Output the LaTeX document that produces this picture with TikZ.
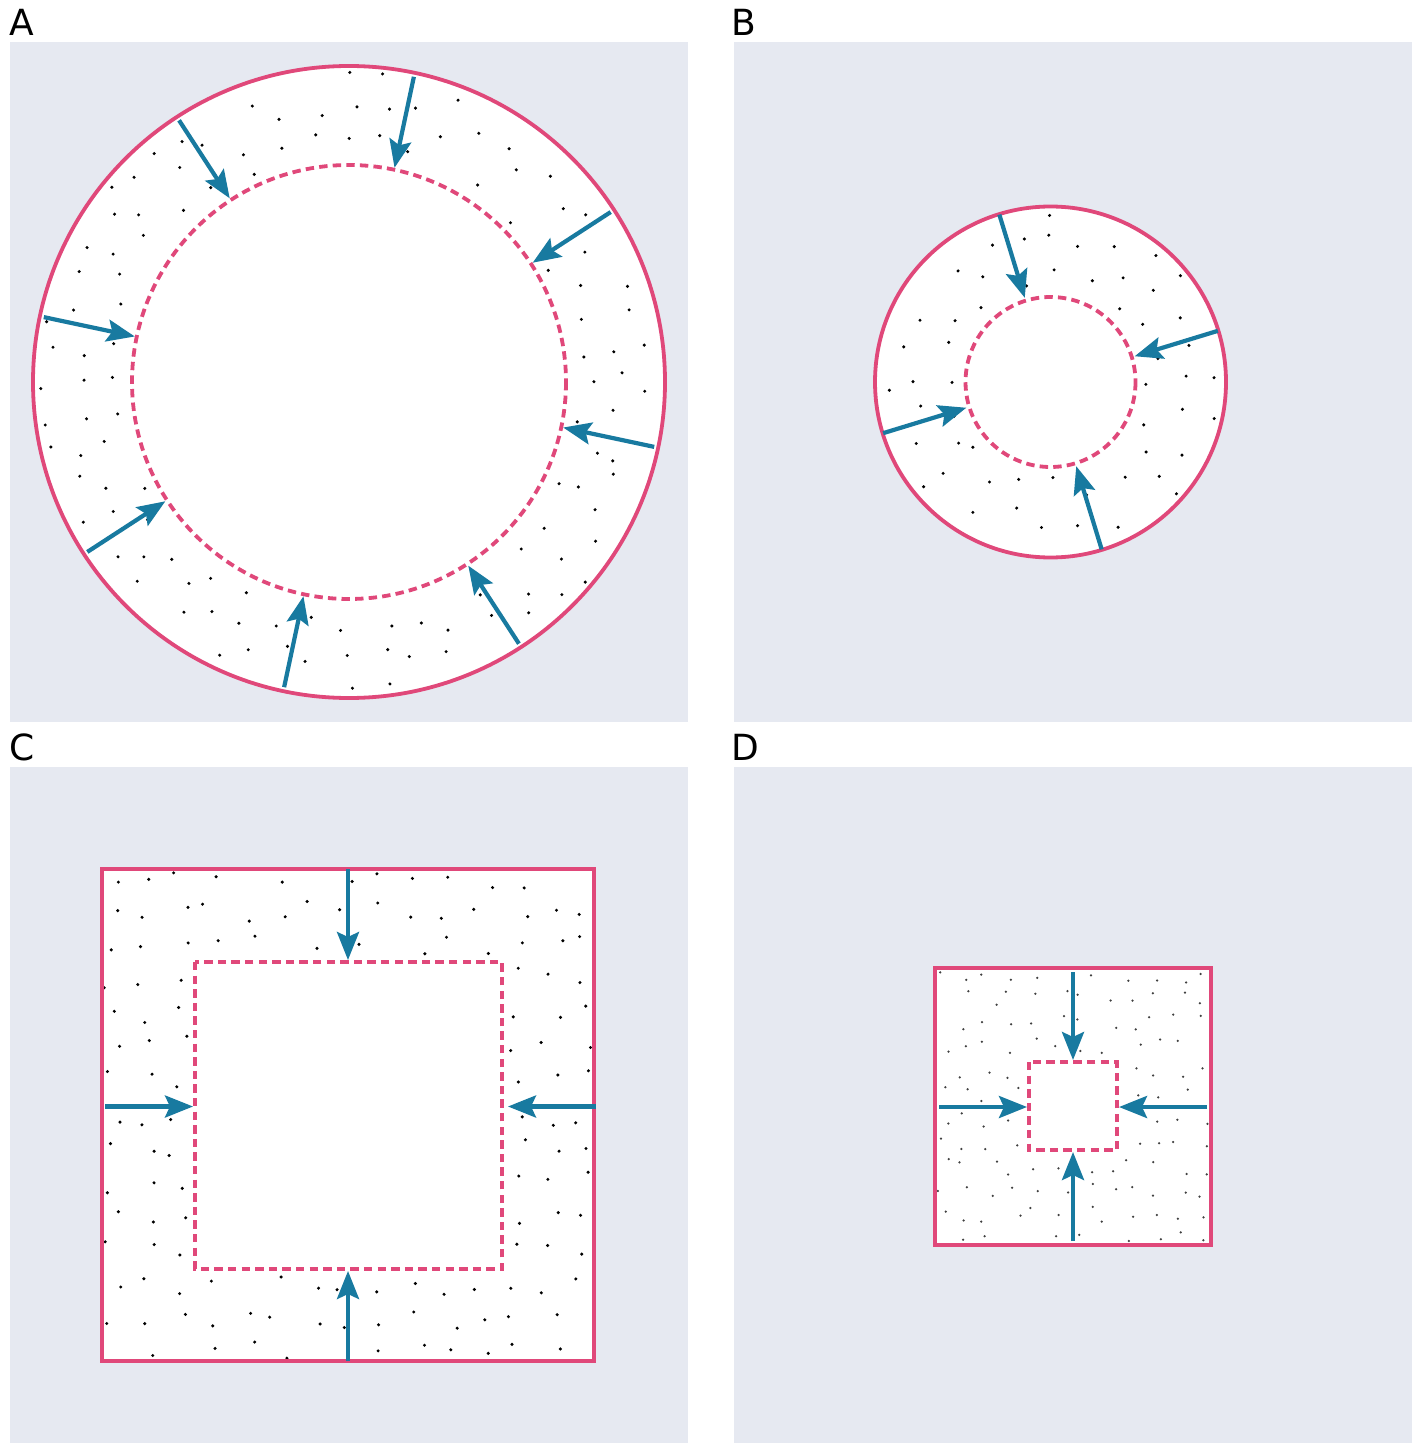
\documentclass[tikz,border=0pt]{standalone}
\usepackage{fontspec}
\setmainfont{DejaVu Sans}
\usetikzlibrary{arrows.meta,calc}
\definecolor{panelbg}{RGB}{230,233,241}
\definecolor{wall}{RGB}{224,72,122}
\definecolor{flow}{RGB}{24,122,160}
\tikzset{
  panel/.style={fill=panelbg, draw=none},
  wallline/.style={draw=wall, line width=1.9pt},
  front/.style={draw=wall, line width=1.9pt, dash pattern=on 4.2pt off 2.6pt},
  push/.style={draw=flow, line width=2.1pt, -{Stealth[length=14pt,width=11pt,inset=2.5pt]}},
  grain/.style={fill=black},
  finegrain/.style={fill=black!75},
  letter/.style={anchor=base west, inner sep=0pt, font=\fontsize{18}{22}\selectfont},
}
\begin{document}
\begin{tikzpicture}[x=0.5pt,y=-0.5pt]
\useasboundingbox (0,0) rectangle (1416,1443);
\fill[white] (0,0) rectangle (1416,1443);

% panel backgrounds
\fill[panel] (10,42) rectangle (688,722);
\fill[panel] (734,42) rectangle (1412,722);
\fill[panel] (10,767) rectangle (688,1447);
\fill[panel] (734,767) rectangle (1412,1447);

% panel letters
\node[letter] (labA) at (9.5,36) {A};
\node[letter] (labB) at (731,36) {B};
\node[letter] (labC) at (9,760) {C};
\node[letter] (labD) at (731.5,760) {D};

% ---------- A: large ring ----------
\coordinate (cA) at (349,382);
\fill[white] (cA) circle[radius=316];
\pgfmathsetseed{11}
\foreach \gx in {-306,-272,...,306}{
  \foreach \gy in {-306,-272,...,306}{
    \pgfmathsetmacro\px{\gx+11*rand}
    \pgfmathsetmacro\py{\gy+11*rand}
    \pgfmathsetmacro\rr{100*sqrt((\px/100)^2+(\py/100)^2)}
    \ifdim\rr pt>225pt \ifdim\rr pt<310pt
      \fill[grain] (349+\px,382+\py) circle[radius=1.7];
    \fi\fi
  }}
\draw[wallline] (cA) circle[radius=316];
\draw[front] (cA) circle[radius=217];
\foreach \k in {0,...,7}{
  \pgfmathsetmacro\ang{-(33+45*\k)}
  \coordinate (as\k) at ($(cA)+(\ang:312)$);
  \coordinate (at\k) at ($(cA)+(\ang:219)$);
  \draw[push] (as\k) -- (at\k);
}

% ---------- B: small ring ----------
\coordinate (cB) at (1050.5,382);
\fill[white] (cB) circle[radius=175.5];
\pgfmathsetseed{23}
\foreach \gx in {-170,-136,...,170}{
  \foreach \gy in {-170,-136,...,170}{
    \pgfmathsetmacro\px{\gx+11*rand}
    \pgfmathsetmacro\py{\gy+11*rand}
    \pgfmathsetmacro\rr{100*sqrt((\px/100)^2+(\py/100)^2)}
    \ifdim\rr pt>93pt \ifdim\rr pt<170pt
      \fill[grain] (1050.5+\px,382+\py) circle[radius=1.7];
    \fi\fi
  }}
\draw[wallline] (cB) circle[radius=175.5];
\draw[front] (cB) circle[radius=85];
\foreach \k in {0,...,3}{
  \pgfmathsetmacro\ang{-(17+90*\k)}
  \coordinate (bs\k) at ($(cB)+(\ang:175)$);
  \coordinate (bt\k) at ($(cB)+(\ang:88)$);
  \draw[push] (bs\k) -- (bt\k);
}

% ---------- C: large square frame ----------
\fill[white] (102,869) rectangle (594,1361);
\pgfmathsetseed{37}
\foreach \gx in {-238,-204,...,238}{
  \foreach \gy in {-238,-204,...,238}{
    \pgfmathsetmacro\px{\gx+11*rand}
    \pgfmathsetmacro\py{\gy+11*rand}
    \pgfmathsetmacro\mm{max(abs(\px),abs(\py))}
    \ifdim\mm pt>161pt \ifdim\mm pt<245pt
      \fill[grain] (348+\px,1115+\py) circle[radius=1.7];
    \fi\fi
  }}
\draw[wallline] (102,869) rectangle (594,1361);
\draw[front] (195,962) rectangle (502,1269);
\coordinate (ctS) at (348,869);    \coordinate (ctT) at (348,960);
\coordinate (cbS) at (348,1361);   \coordinate (cbT) at (348,1271);
\coordinate (clS) at (105,1106.5); \coordinate (clT) at (193,1106.5);
\coordinate (crS) at (596,1106.5); \coordinate (crT) at (508,1106.5);
\draw[push] (ctS) -- (ctT);
\draw[push] (cbS) -- (cbT);
\draw[push] (clS) -- (clT);
\draw[push] (crS) -- (crT);

% ---------- D: small square frame ----------
\fill[white] (935,968) rectangle (1211,1245);
\pgfmathsetseed{53}
\foreach \gx in {-132,-108,...,132}{
  \foreach \gy in {-132,-108,...,132}{
    \pgfmathsetmacro\px{\gx+8*rand}
    \pgfmathsetmacro\py{\gy+8*rand}
    \pgfmathsetmacro\mm{max(abs(\px),abs(\py))}
    \ifdim\mm pt>51pt \ifdim\mm pt<136pt
      \fill[finegrain] (1073+\px,1106.5+\py) circle[radius=1.25];
    \fi\fi
  }}
\draw[wallline] (935,968) rectangle (1211,1245);
\draw[front] (1029,1062) rectangle (1117,1150);
\coordinate (dtS) at (1073,972);   \coordinate (dtT) at (1073,1060);
\coordinate (dbS) at (1073,1241);  \coordinate (dbT) at (1073,1152);
\coordinate (dlS) at (939,1107);   \coordinate (dlT) at (1027,1107);
\coordinate (drS) at (1207,1107);  \coordinate (drT) at (1119,1107);
\draw[push] (dtS) -- (dtT);
\draw[push] (dbS) -- (dbT);
\draw[push] (dlS) -- (dlT);
\draw[push] (drS) -- (drT);
\end{tikzpicture}
\end{document}
